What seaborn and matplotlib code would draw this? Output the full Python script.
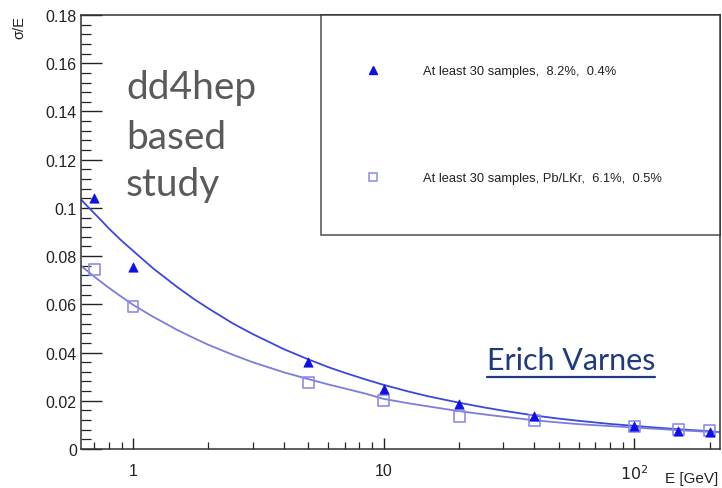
import matplotlib
matplotlib.use("Agg")
import matplotlib.pyplot as plt
from matplotlib.lines import Line2D
from matplotlib.ticker import FixedLocator, FixedFormatter, LogLocator, MultipleLocator, NullFormatter
import seaborn as sns
import pandas as pd

# ---- data ----
E_points = [0.7, 1, 5, 10, 20, 40, 100, 150, 200]
res_triangle = [0.104, 0.0756, 0.036, 0.0249, 0.0187, 0.0138, 0.0097, 0.0073, 0.0072]
res_square = [0.0746, 0.059, 0.0274, 0.0200, 0.0134, 0.0117, 0.0094, 0.0079, 0.0077]

fit_E = [0.62, 0.66, 0.7, 0.75, 0.8, 0.9, 1, 1.2, 1.5, 1.75, 2, 2.5, 3, 4, 5, 6, 7, 8.5,
         10, 12.5, 15, 20, 25, 30, 40, 50, 60, 80, 100, 125, 150, 185, 220]
fit_triangle = [0.1035, 0.1005, 0.0978, 0.0946, 0.0915, 0.0864, 0.0822, 0.0750, 0.0672,
                0.0622, 0.0583, 0.0521, 0.0477, 0.0414, 0.0372, 0.0340, 0.0316, 0.0288,
                0.0266, 0.0239, 0.0219, 0.0192, 0.0173, 0.0159, 0.0139, 0.0126, 0.0117,
                0.0104, 0.0096, 0.0088, 0.0082, 0.0076, 0.0070]
fit_square = [0.0760, 0.0737, 0.0715, 0.0691, 0.0669, 0.0631, 0.0598, 0.0549, 0.0494,
              0.0460, 0.0432, 0.0391, 0.0360, 0.0318, 0.0290, 0.0268, 0.0251, 0.0229,
              0.0208, 0.0190, 0.0177, 0.0157, 0.0144, 0.0134, 0.0119, 0.0110, 0.0103,
              0.0095, 0.0089, 0.0083, 0.0078, 0.0073, 0.0069]

label_triangle = "At least 30 samples,  8.2%,  0.4%"
label_square = "At least 30 samples, Pb/LKr,  6.1%,  0.5%"

x_ticks = [1, 10, 100]
x_tick_labels = ["1", "10", "$10^{2}$"]
y_ticks = [0, 0.02, 0.04, 0.06, 0.08, 0.1, 0.12, 0.14, 0.16, 0.18]
y_tick_labels = ["0", "0.02", "0.04", "0.06", "0.08", "0.1", "0.12", "0.14", "0.16", "0.18"]

# ---- styling ----
sns.set_theme(style="ticks")
plt.rcParams["font.family"] = ["Liberation Sans", "DejaVu Sans"]

c_tri = "#1010e6"
c_tri_line = "#3a48dc"
c_sq = "#8c8cea"
c_sq_line = "#7c7cdc"

fig = plt.figure(figsize=(7.22, 4.89), dpi=100)
ax = fig.add_axes([81 / 722, 39 / 489, 639 / 722, 434 / 489])

fit_df = pd.DataFrame({"E": fit_E, "tri": fit_triangle, "sq": fit_square})
pts_df = pd.DataFrame({"E": E_points, "tri": res_triangle, "sq": res_square})

sns.lineplot(data=fit_df, x="E", y="tri", ax=ax, color=c_tri_line, lw=1.3,
             estimator=None, sort=False, legend=False)
sns.lineplot(data=fit_df, x="E", y="sq", ax=ax, color=c_sq_line, lw=1.3,
             estimator=None, sort=False, legend=False)
sns.scatterplot(data=pts_df, x="E", y="sq", ax=ax, marker="s", s=62,
                facecolor="none", edgecolor=c_sq, linewidth=1.2, legend=False, zorder=3)
sns.scatterplot(data=pts_df, x="E", y="tri", ax=ax, marker="^", s=45,
                color=c_tri, edgecolor=c_tri, linewidth=0.5, legend=False, zorder=4)

ax.set_xscale("log")
ax.set_xlim(0.62, 220)
ax.set_ylim(0, 0.18)

ax.xaxis.set_major_locator(FixedLocator(x_ticks))
ax.xaxis.set_major_formatter(FixedFormatter(x_tick_labels))
ax.xaxis.set_minor_locator(LogLocator(base=10, subs=[2, 3, 4, 5, 6, 7, 8, 9]))
ax.xaxis.set_minor_formatter(NullFormatter())
ax.yaxis.set_major_locator(FixedLocator(y_ticks))
ax.yaxis.set_major_formatter(FixedFormatter(y_tick_labels))
ax.yaxis.set_minor_locator(MultipleLocator(0.004))

ax.tick_params(axis="both", which="both", direction="in", colors="#222222",
               labelcolor="#222222", top=False, right=False)
ax.tick_params(axis="y", which="major", length=15, width=1.0, labelsize=11.5, pad=3)
ax.tick_params(axis="y", which="minor", length=7, width=0.9)
ax.tick_params(axis="x", which="major", length=8, width=1.0, labelsize=11.5, pad=10)
ax.tick_params(axis="x", which="minor", length=5, width=0.9)
for sp in ax.spines.values():
    sp.set_visible(True)
    sp.set_color("#333333")
    sp.set_linewidth(1.1)

ax.set_ylabel("σ/E", loc="top", fontsize=10.5, color="#222222")
ax.yaxis.set_label_coords(-0.086, 1.0)
ax.set_xlabel("E [GeV]", loc="right", fontsize=11, color="#222222")
ax.xaxis.set_label_coords(0.997, -0.05)

# legend
handles = [
    Line2D([], [], marker="^", linestyle="none", color=c_tri, markersize=6),
    Line2D([], [], marker="s", linestyle="none", markerfacecolor="none",
           markeredgecolor=c_sq, markersize=6, markeredgewidth=1.1),
]
leg = ax.legend(handles, [label_triangle, label_square], loc="upper left",
                bbox_to_anchor=(240 / 639, 0, 399 / 639, 1.0), mode="expand",
                prop={"family": ["Liberation Sans", "DejaVu Sans"], "size": 9.3},
                borderpad=3.9, labelspacing=7.35, handlelength=0.2, handletextpad=3.8,
                fancybox=False, frameon=True, borderaxespad=0)
leg.get_frame().set_edgecolor("#222222")
leg.get_frame().set_linewidth(1.1)
for t in leg.get_texts():
    t.set_color("#222222")

# overlay texts
for word, base in zip(["dd4hep", "based", "study"], [99, 149, 196]):
    fig.text(126 / 722, 1 - base / 489, word, fontsize=28,
             family=["Lato", "DejaVu Sans"], color="#5a5a5a", ha="left", va="baseline")
tv = fig.text(571 / 722, 1 - 370 / 489, "Erich Varnes", fontsize=22,
              family=["Lato", "DejaVu Sans"], color="#1f3a80", ha="center", va="baseline")

fig.canvas.draw()
bb = tv.get_window_extent()
uy = bb.y0 + 0.5
fig.add_artist(Line2D([bb.x0 / 722, bb.x1 / 722], [(uy - 3) / 489, (uy - 3) / 489],
                      transform=fig.transFigure, color="#1f3a80", lw=1.6))

fig.savefig("out.png", dpi=100)
